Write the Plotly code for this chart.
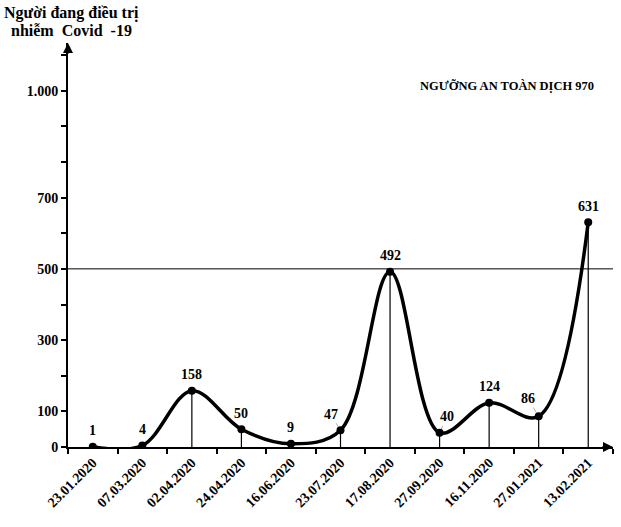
import plotly.graph_objects as go

# ---- data ----
dates = ["23.01.2020", "07.03.2020", "02.04.2020", "24.04.2020", "16.06.2020",
         "23.07.2020", "17.08.2020", "27.09.2020", "16.11.2020", "27.01.2021",
         "13.02.2021"]
patients = [1, 4, 158, 50, 9, 47, 492, 40, 124, 86, 631]
threshold = 500
y_tickvals = [0, 100, 300, 500, 700, 1000]
y_ticktext = ["0", "100", "300", "500", "700", "1.000"]
title_line1 = "Người đang điều trị"
title_line2 = "nhiễm  Covid  -19"
threshold_note = "NGƯỠNG AN TOÀN DỊCH 970"

FONT = "Liberation Serif"

fig = go.Figure()
fig.add_trace(go.Scatter(
    x=dates, y=patients,
    mode="lines+markers",
    line=dict(color="black", width=3.5, shape="spline", smoothing=1.0),
    marker=dict(color="black", size=8),
    error_y=dict(type="data", symmetric=False, array=[0] * len(patients),
                 arrayminus=patients, width=0, thickness=1.2, color="black"),
    hoverinfo="x+y",
    showlegend=False,
))

# label offsets (pixels) for data labels
offsets = {5: (-10, -16), 7: (7, -16), 9: (-11, -18)}
annotations = []
for i, (d, v) in enumerate(zip(dates, patients)):
    if i in offsets:
        dx, dy = offsets[i]
        annotations.append(dict(x=d, y=v, xref="x", yref="y", text=str(v),
                                showarrow=True, ax=dx, ay=dy, arrowhead=0,
                                arrowwidth=0.8, arrowcolor="#999999", standoff=4,
                                font=dict(family=FONT, size=14, color="black", weight="bold")))
    else:
        annotations.append(dict(x=d, y=v, xref="x", yref="y", text=str(v),
                                showarrow=False, yshift=16,
                                font=dict(family=FONT, size=14, color="black", weight="bold")))

# titles
annotations.append(dict(x=0.0064, y=1.074, xref="paper", yref="paper", text=title_line1,
                        showarrow=False, xanchor="center", yanchor="middle",
                        font=dict(family=FONT, size=16, color="black", weight="bold")))
annotations.append(dict(x=0.0064, y=1.032, xref="paper", yref="paper", text=title_line2,
                        showarrow=False, xanchor="center", yanchor="middle",
                        font=dict(family=FONT, size=16, color="black", weight="bold")))
annotations.append(dict(x=0.806, y=0.894, xref="paper", yref="paper", text=threshold_note,
                        showarrow=False, xanchor="center", yanchor="middle",
                        font=dict(family=FONT, size=12.5, color="black", weight="bold")))

# axis arrowheads
annotations.append(dict(x=1, y=0, xref="paper", yref="paper", ax=-12, ay=0, text="",
                        showarrow=True, arrowhead=2, arrowsize=1, arrowwidth=2,
                        arrowcolor="black"))
annotations.append(dict(x=0, y=1, xref="paper", yref="paper", ax=0, ay=12, text="",
                        showarrow=True, arrowhead=2, arrowsize=1, arrowwidth=2,
                        arrowcolor="black"))

fig.update_layout(
    width=621, height=527,
    margin=dict(l=67.5, r=8, t=43, b=80),
    paper_bgcolor="white", plot_bgcolor="white",
    font=dict(family=FONT, size=14, color="black", weight="bold"),
    annotations=annotations,
    shapes=[dict(type="line", xref="paper", yref="y", x0=0, x1=1,
                 y0=threshold, y1=threshold, line=dict(color="black", width=1))],
    xaxis=dict(type="category", range=[-0.5, len(dates) - 0.5],
               showline=True, linecolor="black", linewidth=2,
               ticks="outside", tickson="boundaries", ticklen=5, tickwidth=1.5,
               tickcolor="black", tickangle=-45, showgrid=False, zeroline=False,
               automargin=False,
               tickfont=dict(family=FONT, size=14, weight="bold")),
    yaxis=dict(range=[0, 1134], showline=True, linecolor="black", linewidth=2,
               tickmode="array", tickvals=y_tickvals, ticktext=y_ticktext,
               ticks="outside", ticklen=5, tickwidth=1.5, tickcolor="black",
               minor=dict(dtick=100, tick0=0, ticks="outside", ticklen=5,
                          tickwidth=1.5, tickcolor="black", showgrid=False),
               showgrid=False, zeroline=False, automargin=False,
               tickfont=dict(family=FONT, size=14, weight="bold")),
)

# remove the default page margin so the figure fills the window exactly
fig.write_html("out.html", config={"displayModeBar": False},
               post_script="document.body.style.margin='0';document.body.style.overflow='hidden';")
